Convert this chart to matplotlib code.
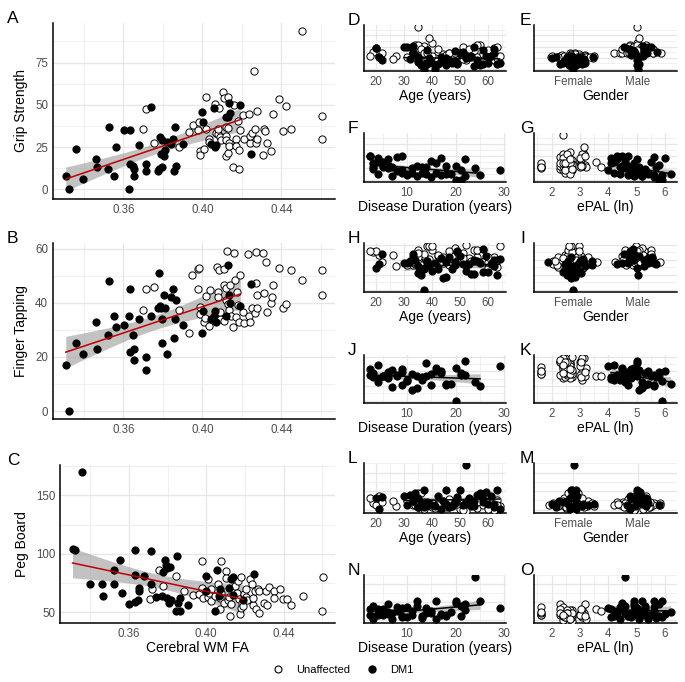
import numpy as np
import matplotlib.pyplot as plt
from matplotlib.ticker import MultipleLocator, AutoMinorLocator, NullLocator, FormatStrFormatter
from matplotlib.lines import Line2D

plt.rcParams['font.family'] = ['Liberation Sans', 'DejaVu Sans']

# ------------------------------------------------------------------
# DM1 subjects, ordered by cerebral WM FA
fa_dm = [0.3309, 0.3324, 0.3360, 0.3397, 0.3460, 0.3465, 0.3521, 0.3526, 0.3554, 0.3564,
         0.3602, 0.3630, 0.3632, 0.3632, 0.3647, 0.3652, 0.3654, 0.3681, 0.3713, 0.3716,
         0.3740, 0.3773, 0.3779, 0.3788, 0.3793, 0.3795, 0.3798, 0.3806, 0.3811, 0.3820,
         0.3842, 0.3850, 0.3854, 0.3862, 0.3864, 0.3904, 0.4000, 0.4001, 0.4045, 0.4057,
         0.4065, 0.4070, 0.4120, 0.4127, 0.4136, 0.4140, 0.4192, 0.4248]
grip_dm = [8, 0, 24, 6, 18, 13, 12, 37, 8, 25, 35, 0, 35, 15, 14, 12, 8, 26, 15, 11,
           49, 11, 12, 31, 21, 13, 29, 20, 23, 28, 27, 30, 11, 37, 14, 27, 46, 40, 27, 48,
           25, 26, 43, 43, 51, 45, 50, 21]
tap_dm = [17, 0, 25, 21, 33, 23, 28, 48, 35, 31, 32, 35, 45, 22, 28, 23, 19, 34, 15, 20,
          35, 38, 51, 39, 38, 25, 34, 43, 38, 21, 42, 45, 27, 34, 41, 32, 29, 37, 34, 35,
          37, 33, 35, 54, 43, 40, 39, 47]
peg_dm = [104, 103, 170, 74, 74, 64, 86, 74, 95, 66, 57, 59, 103, 82, 60, 71, 68, 81, 74, 102,
          63, 64, 84, 95, 90, 62, 88, 58, 89, 60, 51, 98, 58, 62, 51, 56, 81, 68, 51, 86,
          64, 70, 71, 78, 80, 65, 60, 83]
age_dm = [45, 37, 52, 55, 48, 60, 42, 33, 57, 39, 62, 41, 50, 35, 47, 58, 36, 53, 44, 63,
          31, 38, 49, 34, 56, 40, 61, 46, 32, 54, 43, 59, 37, 51, 64, 35, 20, 48, 21, 30,
          45, 52, 38, 58, 33, 62, 55, 22]
sex_dm = list('FFFFFFFMFF' 'MMMFFFMFFF' 'MFMMFFMFFF' 'MMFMFFMMFM' 'FFMMMMMM')
dur_dm = [12, 20, 24, 15, 8, 18, 10, 4, 22, 6, 3, 21, 16, 9, 13, 19, 7, 5, 11, 25,
          2.5, 17, 14, 6, 21, 4, 12, 9, 3, 18, 7, 20, 10, 5, 16, 13, 4, 15, 3, 8,
          11, 14, 6, 22, 2.5, 17, 9, 29]
epal_dm = [5.2, 5.9, 4.6, 5.6, 5.0, 5.4, 4.4, 4.2, 4.9, 4.8, 4.1, 5.8, 4.9, 5.3, 4.2, 6.2, 5.2, 4.5, 5.1, 5.6,
           4.3, 4.7, 5.0, 5.8, 4.9, 5.2, 4.6, 4.8, 5.3, 4.7, 5.1, 4.5, 5.9, 5.5, 5.4, 5.7, 4.1, 4.6, 4.4, 5.6,
           5.0, 4.8, 4.3, 5.0, 4.5, 6.0, 4.7, 4.0]
# 1 = subject used in the regression fits
fit_dm = [1] * 36 + [0, 1, 0] + [1] * 8 + [0]

# ------------------------------------------------------------------
# Unaffected subjects (one FA list per outcome, same subject order)
fa_grip_u = [0.3701, 0.3713, 0.3756, 0.3881, 0.3931, 0.3952, 0.3979, 0.3982, 0.3986, 0.3990,
             0.4010, 0.4018, 0.4020, 0.4031, 0.4035, 0.4065, 0.4070, 0.4079, 0.4080, 0.4082,
             0.4090, 0.4092, 0.4106, 0.4111, 0.4118, 0.4118, 0.4120, 0.4118, 0.4130, 0.4130,
             0.4130, 0.4133, 0.4135, 0.4155, 0.4158, 0.4171, 0.4171, 0.4178, 0.4186, 0.4186,
             0.4192, 0.4205, 0.4208, 0.4234, 0.4239, 0.4242, 0.4251, 0.4259, 0.4265, 0.4270,
             0.4277, 0.4277, 0.4307, 0.4314, 0.4319, 0.4327, 0.4349, 0.4358, 0.4386, 0.4408,
             0.4425, 0.4446, 0.4505, 0.4606, 0.4606]
grip_u = [36, 47.5, 27.5, 25, 34, 38.3, 35.2, 39.7, 22.8, 20.4,
          24, 35.6, 54.4, 29.5, 27.9, 50.3, 33.6, 32.6, 35.6, 47.9,
          31.2, 29.1, 57.6, 54, 36.7, 31.6, 29.1, 19.8, 54.6, 36.3,
          21.4, 27.5, 25.5, 13.2, 49.9, 29.9, 25.9, 40.7, 23.4, 12.2,
          35, 43.8, 29.9, 44.4, 27.5, 31.6, 33.6, 69.9, 36, 27.5,
          46.4, 29.5, 20.4, 36, 34.6, 27.5, 22.4, 44.8, 53.6, 34.6,
          49.3, 35.6, 93.7, 43.2, 29.9]
fa_tap_u = [0.3701, 0.3715, 0.3756, 0.3880, 0.3931, 0.3948, 0.3977, 0.3979, 0.3982, 0.3986,
            0.3990, 0.4010, 0.4013, 0.4020, 0.4035, 0.4036, 0.4074, 0.4080, 0.4080, 0.4084,
            0.4087, 0.4090, 0.4108, 0.4108, 0.4111, 0.4118, 0.4120, 0.4126, 0.4130, 0.4133,
            0.4141, 0.4145, 0.4157, 0.4162, 0.4163, 0.4168, 0.4173, 0.4178, 0.4186, 0.4192,
            0.4205, 0.4208, 0.4231, 0.4238, 0.4242, 0.4251, 0.4265, 0.4270, 0.4273, 0.4277,
            0.4277, 0.4307, 0.4314, 0.4320, 0.4327, 0.4349, 0.4351, 0.4358, 0.4386, 0.4408,
            0.4425, 0.4446, 0.4505, 0.4603, 0.4606]
tap_u = [37.4, 45.3, 45.9, 37.5, 28.8, 50.2, 45.3, 52.4, 53, 38.4,
         36, 32.8, 34.3, 42.5, 31.3, 44.8, 53.4, 44, 42.1, 52.1,
         34, 36.5, 52.7, 46.8, 33.4, 45.5, 41, 59.2, 39.7, 37.2,
         46.5, 35, 30.9, 58.4, 48.4, 34.7, 44, 39.3, 32.8, 50.5,
         36.5, 32.5, 58, 35.3, 33, 38, 36.3, 58.7, 47.5, 38,
         43, 58.6, 43.8, 55, 36.5, 40, 42.1, 46.8, 53, 38,
         39.5, 52.1, 48.6, 43, 52.1]
fa_peg_u = [0.3710, 0.3719, 0.3757, 0.3777, 0.3844, 0.3887, 0.3932, 0.3963, 0.3977, 0.3980,
            0.3985, 0.4008, 0.4011, 0.4015, 0.4025, 0.4027, 0.4045, 0.4060, 0.4070, 0.4073,
            0.4077, 0.4078, 0.4090, 0.4100, 0.4104, 0.4114, 0.4118, 0.4125, 0.4130, 0.4139,
            0.4150, 0.4158, 0.4163, 0.4169, 0.4173, 0.4180, 0.4180, 0.4186, 0.4192, 0.4197,
            0.4204, 0.4207, 0.4210, 0.4228, 0.4235, 0.4240, 0.4242, 0.4252, 0.4257, 0.4266,
            0.4271, 0.4273, 0.4297, 0.4309, 0.4314, 0.4324, 0.4348, 0.4352, 0.4379, 0.4397,
            0.4417, 0.4440, 0.4500, 0.4598, 0.4601]
peg_u = [61.3, 70, 86.1, 72.6, 80.6, 67.7, 64.5, 65.2, 93.5, 70.6,
         61.9, 78.4, 62.9, 66, 59.7, 69.4, 64, 74.2, 52.3, 62.3,
         93.5, 66.8, 58, 85.5, 79, 60.3, 63, 46.8, 57, 69.4,
         72.6, 66, 76.5, 61.3, 48.4, 79.7, 53.2, 58, 54.8, 65.5,
         69.4, 62.9, 60, 78.1, 74.2, 56.5, 62, 68.4, 52.6, 70,
         49, 67.7, 58.1, 67.7, 55.8, 71.9, 67.7, 62.3, 69.4, 61.3,
         61.3, 56.5, 63.9, 51, 80]
age_u = [33, 36, 21, 48, 60, 19, 42, 55, 35, 62, 38, 46, 34, 53, 27, 37, 58, 44, 50, 20,
         36, 61, 40, 57, 33, 47, 39, 52, 35, 59, 26, 44, 63, 38, 51, 34, 56, 61, 41, 49,
         22, 36, 64, 53, 31, 45, 58, 39, 37, 54, 62, 40, 35, 48, 60, 33, 51, 42, 56, 38,
         63, 46, 35, 60, 18]
sex_u = list('FMFFFMFMFF' 'FMMFFMFFMM' 'FFMMMFFFMM' 'FFFFMFFMFF' 'MMFMFFMMMF' 'MFFMMFFMMM' 'MMMMF')
epal_u = [2.48, 2.56, 1.61, 2.40, 3.09, 2.64, 2.48, 3.00, 2.30, 2.56,
          1.61, 2.71, 3.14, 2.48, 2.40, 2.56, 3.04, 2.64, 2.48, 2.30,
          3.18, 2.56, 2.64, 2.40, 3.58, 2.48, 1.61, 2.71, 3.09, 2.56,
          2.40, 3.00, 2.64, 2.48, 2.56, 2.30, 3.22, 2.71, 2.48, 2.64,
          1.61, 3.04, 2.40, 2.56, 3.74, 2.48, 2.71, 3.14, 2.64, 2.56,
          2.40, 3.09, 2.48, 2.30, 2.64, 1.61, 2.71, 3.00, 2.56, 2.40,
          3.18, 2.48, 2.40, 2.64, 3.04]

outcomes = ['Grip Strength', 'Finger Tapping', 'Peg Board']
genders = ['Female', 'Male']

# ------------------------------------------------------------------
W, H = 685, 682
fig = plt.figure(figsize=(W / 100, H / 100), dpi=100)


def add_ax(l, t, r, b):
    return fig.add_axes([l / W, 1 - b / H, (r - l) / W, (b - t) / H])


def style(ax, ymaj, xmaj=None, show_y=True):
    for s in ['top', 'right']:
        ax.spines[s].set_visible(False)
    for s in ['left', 'bottom']:
        ax.spines[s].set_linewidth(1.1)
        ax.spines[s].set_color('black')
    ax.yaxis.set_major_locator(MultipleLocator(ymaj))
    ax.yaxis.set_minor_locator(AutoMinorLocator(2))
    if xmaj is not None:
        ax.xaxis.set_major_locator(MultipleLocator(xmaj))
        ax.xaxis.set_minor_locator(AutoMinorLocator(2))
    ax.grid(which='major', color='#E6E6E6', lw=0.9)
    ax.grid(which='minor', color='#EEEEEE', lw=0.6)
    ax.set_axisbelow(True)
    ax.tick_params(which='both', length=0, labelsize=8.3, labelcolor='#4D4D4D', pad=3.5)
    if not show_y:
        ax.tick_params(labelleft=False)


def dots(ax, x, y, filled):
    ax.scatter(x, y, s=27, c='black' if filled else 'white', edgecolors='black',
               linewidths=0.7, zorder=3)


def fit_band(ax, x, y, color):
    x = np.asarray(x, float)
    y = np.asarray(y, float)
    n = len(x)
    b, a = np.polyfit(x, y, 1)
    xs = np.linspace(x.min(), x.max(), 80)
    yhat = a + b * xs
    s = np.sqrt(((y - (a + b * x)) ** 2).sum() / (n - 2))
    sxx = ((x - x.mean()) ** 2).sum()
    t = 1.96 + 2.4 / (n - 2)
    se = s * np.sqrt(1 / n + (xs - x.mean()) ** 2 / sxx)
    ax.fill_between(xs, yhat - t * se, yhat + t * se, color='#9A9A9A', alpha=0.6, lw=0, zorder=2)
    ax.plot(xs, yhat, color=color, lw=1.1, zorder=4)


def vdc(n):
    out = []
    for i in range(1, n + 1):
        v, den, k = 0.0, 1.0, i
        while k:
            den *= 2
            k, r = divmod(k, 2)
            v += r / den
        out.append(v)
    return np.array(out)


def quasirandom(y, width=0.4):
    # violin shaped spread, like ggbeeswarm::geom_quasirandom
    y = np.asarray(y, float)
    n = len(y)
    sd = y.std(ddof=1)
    iqr = np.subtract(*np.percentile(y, [75, 25]))
    bw = 0.5 * 0.9 * min(sd, iqr / 1.34) * n ** -0.2
    dens = np.exp(-0.5 * ((y[:, None] - y[None, :]) / bw) ** 2).sum(1)
    dens = dens / dens.max()
    rank = np.argsort(np.argsort(y, kind='stable'), kind='stable')
    return (vdc(n)[rank] - 0.5) * 2 * width * dens


def letter(x, base, s):
    fig.text(x / W, 1 - base / H, s, fontsize=12.5, ha='left', va='baseline')


big_boxes = [(53, 23, 335, 199), (53, 243, 335, 419), (60, 465, 335, 623)]
small_tops = [(25, 71, 133, 182), (243, 292, 355, 403), (463, 513, 575, 623)]
ysteps = [25, 20, 50]
letters = ['A', 'B', 'C']
small_letters = ['DEFG', 'HIJK', 'LMNO']

fa_u_all = [fa_grip_u, fa_tap_u, fa_peg_u]
y_u_all = [grip_u, tap_u, peg_u]
y_dm_all = [grip_dm, tap_dm, peg_dm]

fit = np.array(fit_dm) == 1
sx_u = np.array(sex_u)
sx_dm = np.array(sex_dm)

for r in range(3):
    yu = np.array(y_u_all[r], float)
    yd = np.array(y_dm_all[r], float)
    # the small panels of a row share the outcome's full range
    lo = min(yu.min(), yd.min())
    hi = max(yu.max(), yd.max())
    ylim_small = (lo - 0.05 * (hi - lo), hi + 0.05 * (hi - lo))

    # ----- big panel: FA
    ax = add_ax(*big_boxes[r])
    dots(ax, fa_u_all[r], yu, False)
    dots(ax, fa_dm, yd, True)
    fit_band(ax, np.array(fa_dm)[fit], yd[fit], '#C00000')
    style(ax, ysteps[r], 0.04)
    ax.xaxis.set_major_formatter(FormatStrFormatter('%.2f'))
    ax.set_ylabel(outcomes[r], fontsize=10, labelpad=5)
    if r == 2:
        ax.set_xlabel('Cerebral WM FA', fontsize=10, labelpad=0.5)
    l, t, rr, b = big_boxes[r]
    letter(7, t, letters[r])

    t1, b1, t2, b2 = small_tops[r]
    lets = small_letters[r]

    # ----- age
    ax = add_ax(364, t1, 506, b1)
    dots(ax, age_u, yu, False)
    dots(ax, age_dm, yd, True)
    fit_band(ax, np.array(age_dm)[fit], yd[fit], 'black')
    style(ax, ysteps[r], 10, show_y=False)
    ax.set_ylim(*ylim_small)
    ax.set_xlabel('Age (years)', fontsize=10, labelpad=0.5)
    letter(348, t1, lets[0])

    # ----- gender
    ax = add_ax(534, t1, 677, b1)
    for gi, g in enumerate(genders):
        mu = sx_u == g[0]
        md = sx_dm == g[0]
        yy = np.concatenate([yu[mu], yd[md]])
        off = quasirandom(yy)
        nu = mu.sum()
        dots(ax, gi + 1 + off[:nu], yu[mu], False)
        dots(ax, gi + 1 + off[nu:], yd[md], True)
    style(ax, ysteps[r], show_y=False)
    ax.set_xticks([1, 2])
    ax.set_xticklabels(genders)
    ax.xaxis.set_minor_locator(NullLocator())
    ax.set_xlim(0.4, 2.6)
    ax.set_ylim(*ylim_small)
    ax.set_xlabel('Gender', fontsize=10, labelpad=0.5)
    letter(520, t1, lets[1])

    # ----- disease duration (DM1 only)
    ax = add_ax(364, t2, 506, b2)
    dots(ax, dur_dm, yd, True)
    fit_band(ax, np.array(dur_dm)[fit], yd[fit], 'black')
    style(ax, ysteps[r], 10, show_y=False)
    ax.set_ylim(*ylim_small)
    ax.set_xlabel('Disease Duration (years)', fontsize=10, labelpad=0.5)
    letter(348, t2, lets[2])

    # ----- ePAL
    ax = add_ax(534, t2, 677, b2)
    dots(ax, epal_u, yu, False)
    dots(ax, epal_dm, yd, True)
    fit_band(ax, np.array(epal_dm)[fit], yd[fit], 'black')
    style(ax, ysteps[r], 1, show_y=False)
    ax.set_ylim(*ylim_small)
    ax.set_xlabel('ePAL (ln)', fontsize=10, labelpad=0.5)
    letter(520, t2, lets[3])

handles = [Line2D([], [], ls='', marker='o', markersize=5, markerfacecolor='white',
                  markeredgecolor='black', markeredgewidth=0.8),
           Line2D([], [], ls='', marker='o', markersize=5, markerfacecolor='black',
                  markeredgecolor='black')]
fig.legend(handles, ['Unaffected', 'DM1'], loc='center', bbox_to_anchor=(0.5, 1 - 670 / H),
           ncol=2, frameon=False, fontsize=8, handlelength=1.2, handletextpad=1.0,
           columnspacing=1.4)

fig.savefig('out.png', dpi=100)
